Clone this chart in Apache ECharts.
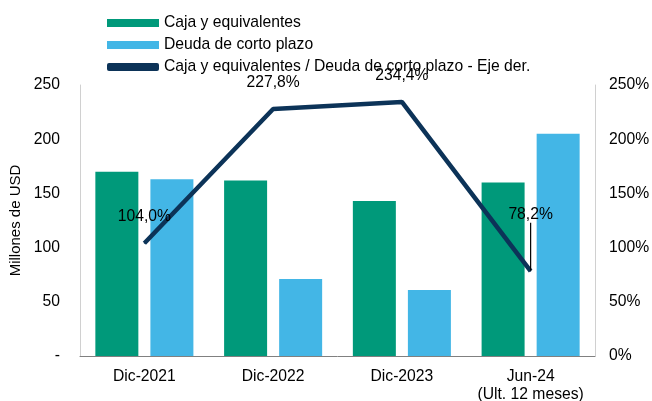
<!DOCTYPE html>
<html>
<head>
<meta charset="utf-8">
<script src="https://cdn.jsdelivr.net/npm/echarts@6/dist/echarts.min.js"></script>
<style>
  html, body { margin: 0; padding: 0; background: #fff; }
  #chart { width: 652px; height: 401px; }
</style>
</head>
<body>
<div id="chart"></div>
<script>
// 数据
const categories = ['Dic-2021', 'Dic-2022', 'Dic-2023', 'Jun-24\n(Ult. 12 meses)']
const caja = [170, 162, 143, 160]
const deuda = [163, 71, 61, 205]
const ratio = [104.0, 227.8, 234.4, 78.2]
const leftTicks = ['-', '50', '100', '150', '200', '250']

const green = '#00997A'
const blue = '#43B6E6'
const navy = '#0C3358'
const font = 'Liberation Sans, Arial, sans-serif'
const fs = 15.7

const chart = echarts.init(document.getElementById('chart'))

chart.setOption({
  animation: false,
  textStyle: { fontFamily: font },
  grid: { left: 80, right: 57, top: 85, bottom: 45, outerBoundsMode: 'none' },
  legend: {
    left: 102,
    top: 10,
    orient: 'vertical',
    itemGap: 6,
    itemWidth: 52,
    itemHeight: 8,
    textStyle: { fontSize: fs, color: '#000', fontFamily: font },
    data: [
      { name: 'Caja y equivalentes', icon: 'rect' },
      { name: 'Deuda de corto plazo', icon: 'rect' },
      { name: 'Caja y equivalentes / Deuda de corto plazo - Eje der.', icon: 'roundRect' }
    ]
  },
  xAxis: {
    type: 'category',
    data: categories,
    axisTick: { show: false },
    axisLine: { lineStyle: { color: '#808080' } },
    axisLabel: { interval: 0, fontSize: fs, color: '#000', margin: 12, lineHeight: 18 }
  },
  yAxis: [
    {
      type: 'value',
      min: 0,
      max: 250,
      interval: 50,
      name: 'Millones de USD',
      nameLocation: 'middle',
      nameGap: 49,
      nameTextStyle: { fontSize: 15, color: '#000' },
      axisLine: { show: true, lineStyle: { color: '#d0d0d0' } },
      axisTick: { show: false },
      splitLine: { show: false },
      axisLabel: {
        fontSize: fs,
        color: '#000',
        margin: 20,
        formatter: (v) => leftTicks[v / 50]
      }
    },
    {
      type: 'value',
      min: 0,
      max: 250,
      interval: 50,
      axisLine: { show: true, lineStyle: { color: '#d0d0d0' } },
      axisTick: { show: false },
      splitLine: { show: false },
      axisLabel: { fontSize: fs, color: '#000', margin: 14, formatter: '{value}%' }
    }
  ],
  series: [
    {
      name: 'Caja y equivalentes',
      type: 'bar',
      data: caja,
      barWidth: 43,
      barGap: '28%',
      itemStyle: { color: green }
    },
    {
      name: 'Deuda de corto plazo',
      type: 'bar',
      data: deuda,
      barWidth: 43,
      itemStyle: { color: blue }
    },
    {
      name: 'Caja y equivalentes / Deuda de corto plazo - Eje der.',
      type: 'line',
      yAxisIndex: 1,
      data: ratio.map((v, i) => ({ value: v, labelLine: { show: i === 3 } })),
      symbol: 'circle',
      symbolSize: 1,
      lineStyle: { color: navy, width: 4.5 },
      itemStyle: { color: navy },
      label: {
        show: true,
        position: 'top',
        distance: 18,
        fontSize: fs,
        color: '#000',
        formatter: (p) => p.value.toFixed(1).replace('.', ',') + '%'
      },
      labelLine: { lineStyle: { color: '#000', width: 1.2 } },
      labelLayout: (p) => p.dataIndex === 3 ? { dy: -30 } : {},
      z: 5
    }
  ]
})
</script>
</body>
</html>
